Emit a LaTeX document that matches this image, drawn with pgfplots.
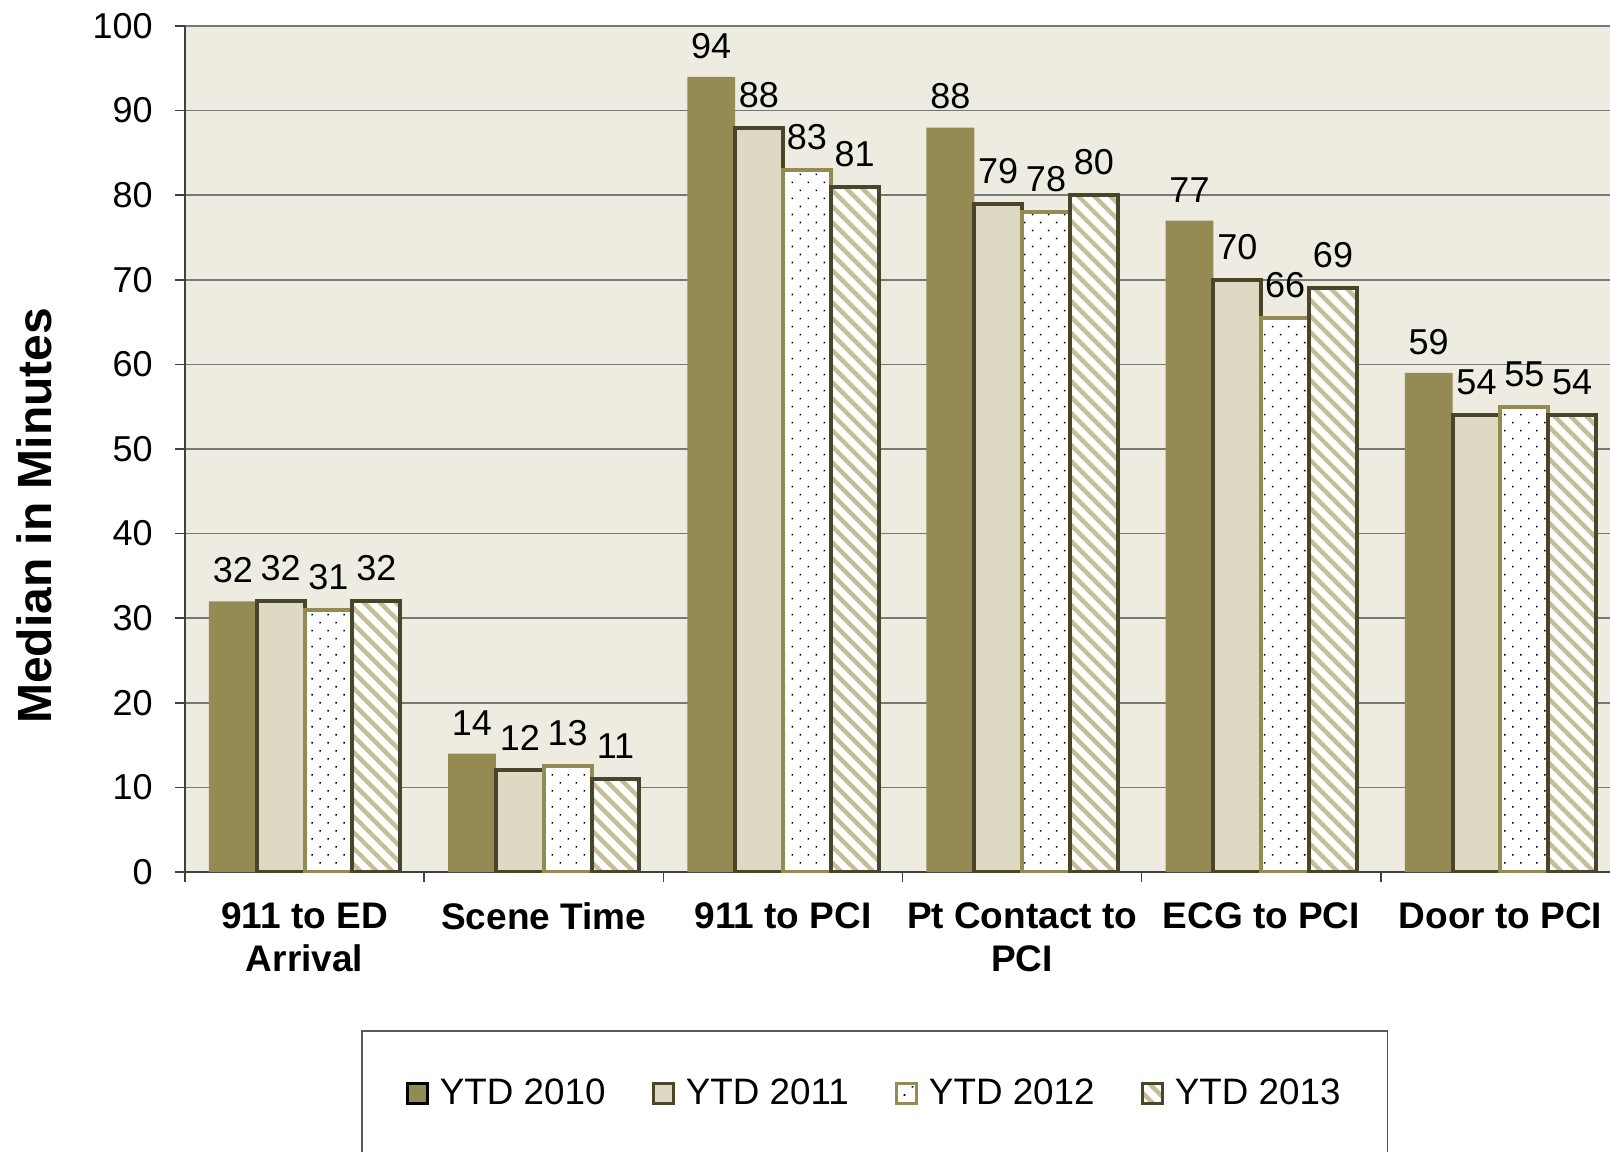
\documentclass[border=0pt]{standalone}
\usepackage{pgfplots}
\pgfplotsset{compat=1.18}
\usepackage{fontspec}
\setmainfont{Liberation Sans}
\usetikzlibrary{patterns.meta}
\definecolor{cA}{HTML}{948A54}
\definecolor{cB}{HTML}{DDD9C3}
\definecolor{cDark}{HTML}{4A452A}
\definecolor{cStripe}{HTML}{C4BD97}
\definecolor{cBg}{HTML}{EEECE1}
\definecolor{cGrid}{HTML}{777777}
\begin{document}
\begin{tikzpicture}
\begin{axis}[
  scale only axis,
  width=717.5pt, height=423pt,
  ybar, bar width=0.2,
  xmin=-0.5, xmax=5.5,
  ymin=0, ymax=100,
  ytick={0,10,...,100},
  xtick={-0.5,0.5,...,5.5},
  xticklabels={911 to ED\\Arrival, Scene Time, 911 to PCI, Pt Contact to\\PCI, ECG to PCI, Door to PCI, {}},
  xticklabel style={align=center, inner sep=0pt, xshift=59.8pt, yshift=-10pt,
     font=\fontsize{18.5}{21.5}\selectfont\bfseries},
  yticklabel style={inner sep=0pt, xshift=-11pt, font=\fontsize{18}{18}\selectfont},
  /pgf/number format/assume math mode=true,
  tick align=outside,
  major tick length=5pt,
  tick style={draw=black!75, line width=0.8pt},
  axis x line*=bottom, axis y line*=left,
  axis line style={-, draw=black!75, line width=0.9pt},
  ymajorgrids,
  grid style={draw=cGrid, line width=0.8pt},
  axis background/.style={fill=cBg},
  ylabel={Median in Minutes},
  ylabel style={at={(axis description cs:-0.105,0.421)}, anchor=center,
     font=\fontsize{24}{24}\selectfont\bfseries},
  nodes near coords={\pgfmathprintnumber[fixed,precision=0]{\pgfplotspointmeta}},
  every node near coord/.append style={font=\fontsize{18}{18}\selectfont, anchor=south, inner sep=0pt, yshift=9pt, black},
  legend columns=4,
  legend style={at={(axis description cs:0.1226,-0.1868)}, anchor=north west,
     draw=black!65, line width=0.8pt, fill=white,
     inner xsep=22pt, inner ysep=24pt,
     font=\fontsize{18.4}{18.4}\selectfont,
     nodes={inner xsep=1.5pt, inner ysep=0pt},
     /tikz/every odd column/.append style={column sep=4pt},
     /tikz/every even column/.append style={column sep=21.5pt}},
  legend image code/.code={\draw[#1, line width=1.6pt] (0pt,-5pt) rectangle (10pt,5pt);},
]
\addplot[bar shift=-0.3, fill=cA, draw=none] coordinates {(0,32) (1,14) (2,94) (3,88) (4,77) (5,59)};
\addplot[bar shift=-0.1, fill=cB, draw=cDark, line width=2pt] coordinates {(0,32) (1,12) (2,88) (3,79) (4,70) (5,54)};
\addplot[bar shift=0.1, fill=white, draw=cA, line width=2pt,
   postaction={pattern color=black, pattern={Dots[angle=45, distance=5.66pt, radius=0.55pt]}}]
   coordinates {(0,31) (1,12.5) (2,83) (3,78) (4,65.5) (5,55)};
\addplot[bar shift=0.3, fill=white, draw=cDark, line width=2pt,
   postaction={pattern color=cStripe, pattern={Lines[angle=-45, distance=5.66pt, line width=2.2pt]}}]
   coordinates {(0,32) (1,11) (2,81) (3,80) (4,69) (5,54)};
\legend{YTD 2010, YTD 2011, YTD 2012, YTD 2013}
\end{axis}
\pgfresetboundingbox
\useasboundingbox (-92.5pt,-139.5pt) rectangle (712.5pt,436pt);
\end{tikzpicture}
\end{document}
